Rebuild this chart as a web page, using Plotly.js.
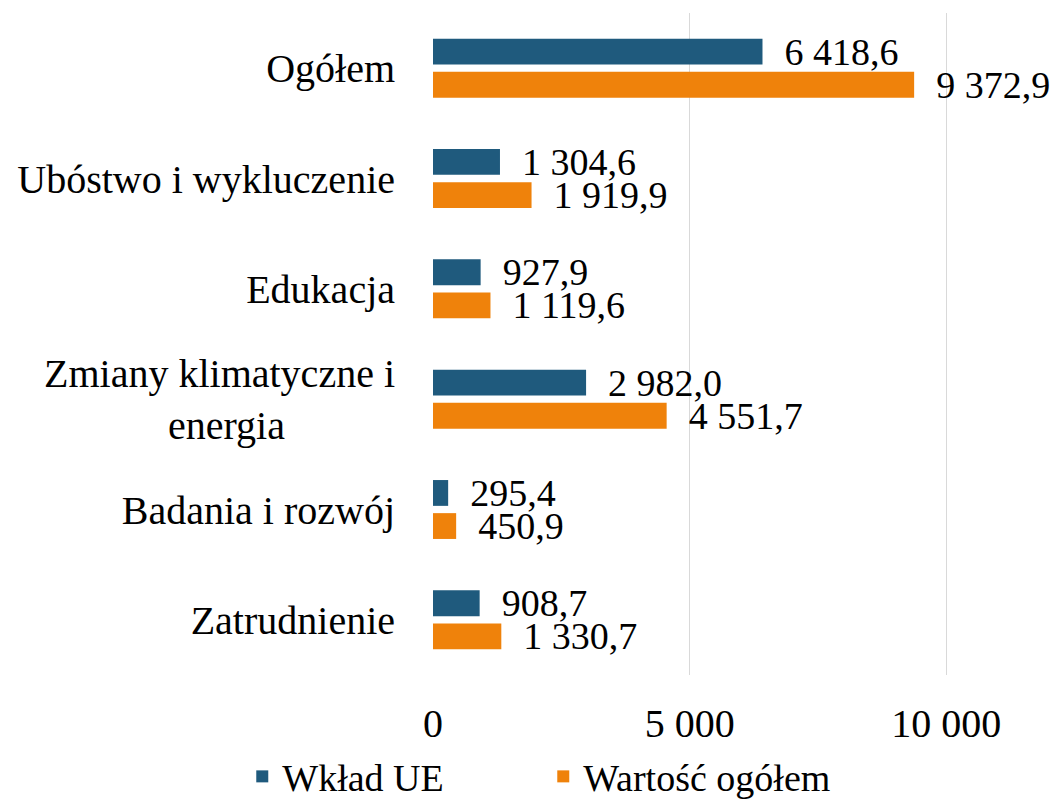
<!DOCTYPE html>
<html><head><meta charset="utf-8">
<script src="https://cdn.plot.ly/plotly-3.0.1.min.js"></script>
<style>html,body{margin:0;padding:0;background:#fff}</style>
</head><body>
<div id="chart" style="width:1059px;height:804px"></div>
<script>
const categories = ["Ogółem", "Ubóstwo i wykluczenie", "Edukacja", "Zmiany klimatyczne i<br>energia\u00a0\u00a0\u00a0\u00a0\u00a0\u00a0\u00a0\u00a0\u00a0\u00a0\u00a0", "Badania i rozwój", "Zatrudnienie"];
const wkladUE = [6418.6, 1304.6, 927.9, 2982.0, 295.4, 908.7];
const wartoscOgolem = [9372.9, 1919.9, 1119.6, 4551.7, 450.9, 1330.7];
const seriesNames = ["Wkład UE", "Wartość ogółem"];
const tickValues = [0, 5000, 10000];

const FONT = "Liberation Serif, Times New Roman, serif";
const FS = 40;
const mk = (vals, name, color) => ({
  type: "bar", orientation: "h", x: vals, y: categories, name: name,
  marker: {color: color},
  texttemplate: "\u2002%{x:,.1f}", textposition: "outside", cliponaxis: false,
  constraintext: "none",
  textfont: {family: FONT, size: 38, color: "#000"},
  hoverinfo: "skip"
});
const data = [mk(wkladUE, seriesNames[0], "#1F5A7D"), mk(wartoscOgolem, seriesNames[1], "#EF820B")];
const layout = {
  width: 1059, height: 804,
  margin: {l: 433, r: 10, t: 13, b: 129},
  separators: ", ",
  font: {family: FONT, size: FS, color: "#000"},
  barmode: "group", bargap: 0.4, bargroupgap: 0.22,
  xaxis: {range: [0, 12000], tickvals: tickValues, tickformat: ",d", showgrid: true, gridcolor: "#D9D9D9", gridwidth: 1.5,
          zeroline: false, showline: false, ticks: "outside", ticklen: 13, tickcolor: "rgba(0,0,0,0)", tickfont: {size: FS}, fixedrange: true, automargin: false},
  yaxis: {autorange: "reversed", showgrid: false, zeroline: false, ticks: "outside", ticklen: 29, tickcolor: "rgba(0,0,0,0)", tickfont: {size: FS}, automargin: false},
  showlegend: true,
  legend: {orientation: "h", x: 0.513, xref: "container", xanchor: "center", y: 0.034, yref: "container", yanchor: "middle",
           font: {size: 38}, traceorder: "normal", entrywidth: 256, itemwidth: 30},
  plot_bgcolor: "#fff", paper_bgcolor: "#fff"
};
Plotly.newPlot("chart", data, layout, {displayModeBar: false, staticPlot: true});
</script>
</body></html>
